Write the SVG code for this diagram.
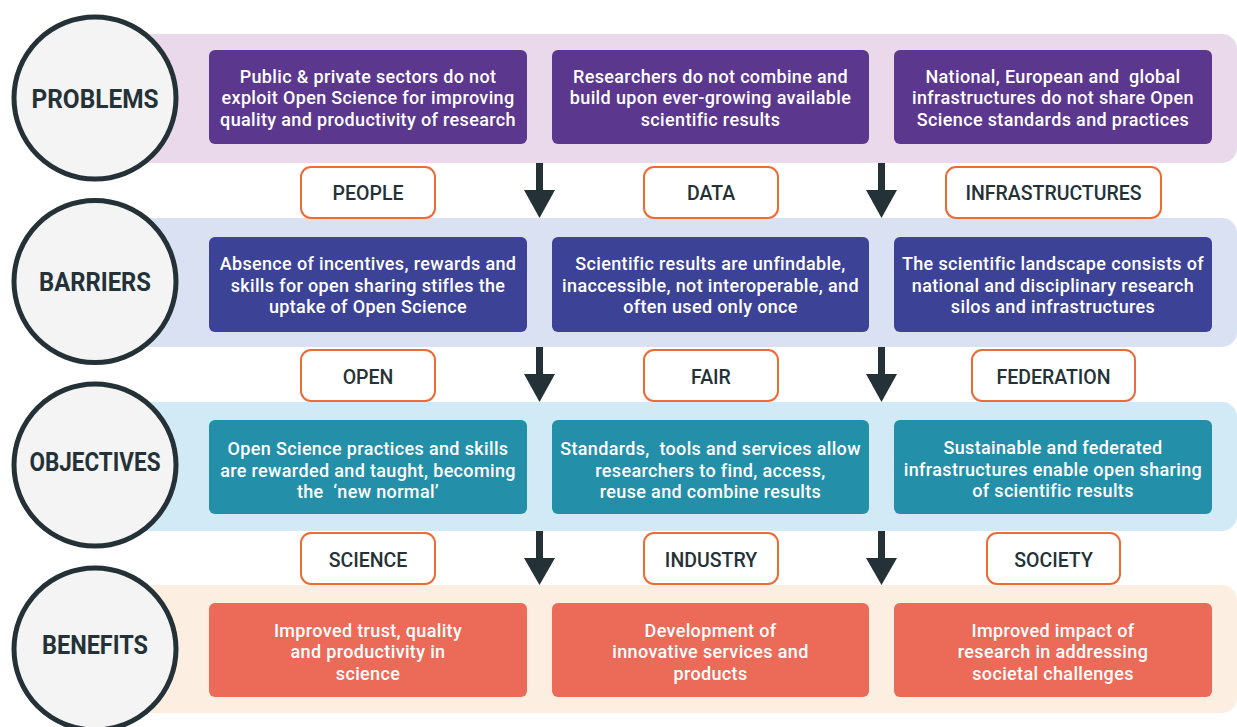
<svg xmlns="http://www.w3.org/2000/svg" width="1237" height="727" viewBox="0 0 1237 727">
  <defs>
    <style>
      .band { stroke: none; }
      .circ { fill: #f4f4f4; stroke: #243238; stroke-width: 5; }
      .clabel { font-family: Roboto, "Liberation Sans", sans-serif; font-weight: 700; font-size: 25.5px; fill: #243238; text-anchor: middle; }
      .box { stroke: none; }
      .btext { font-family: Roboto, "Liberation Sans", sans-serif; font-weight: 500; font-size: 18px; letter-spacing: 0.35px; fill: #ffffff; text-anchor: middle; }
      .lbox { fill: #ffffff; stroke: #ef6b34; stroke-width: 2; }
      .ltext { font-family: Roboto, "Liberation Sans", sans-serif; font-weight: 500; font-size: 19.5px; fill: #243238; text-anchor: middle; }
      .shaft { stroke: #243238; stroke-width: 7; fill: none; }
      .head { fill: #243238; stroke: none; }
    </style>
  </defs>
  <rect width="1237" height="727" fill="#ffffff"/>

  <!-- Bands -->
  <g id="bands">
    <rect class="band" x="95" y="34" width="1142" height="129" rx="15" fill="#e9d9eb"/>
    <rect class="band" x="95" y="218" width="1142" height="129" rx="15" fill="#d9e1f3"/>
    <rect class="band" x="95" y="402" width="1142" height="129" rx="15" fill="#d2e9f6"/>
    <rect class="band" x="95" y="585" width="1142" height="128" rx="15" fill="#fdeee2"/>
  </g>

  <!-- Row headers -->
  <g id="problems">
    <circle class="circ" cx="95" cy="98" r="81"/>
    <text class="clabel" x="95" y="108" textLength="127" lengthAdjust="spacingAndGlyphs">PROBLEMS</text>
  </g>
  <g id="barriers">
    <circle class="circ" cx="95" cy="281.5" r="81"/>
    <text class="clabel" x="95" y="291" textLength="112" lengthAdjust="spacingAndGlyphs">BARRIERS</text>
  </g>
  <g id="objectives">
    <circle class="circ" cx="95" cy="465" r="81"/>
    <text class="clabel" x="95" y="471" textLength="131" lengthAdjust="spacingAndGlyphs">OBJECTIVES</text>
  </g>
  <g id="benefits">
    <circle class="circ" cx="95" cy="649" r="81"/>
    <text class="clabel" x="95" y="654" textLength="106" lengthAdjust="spacingAndGlyphs">BENEFITS</text>
  </g>

  <!-- Problems row -->
  <g id="problem-1">
    <rect class="box" x="209" y="50" width="318" height="94" rx="6" fill="#5b378d"/>
    <text class="btext" x="368" y="82.5">Public &amp; private sectors do not</text>
    <text class="btext" x="368" y="104">exploit Open Science for improving</text>
    <text class="btext" x="368" y="125.5">quality and productivity of research</text>
  </g>
  <g id="problem-2">
    <rect class="box" x="552" y="50" width="317" height="94" rx="6" fill="#5b378d"/>
    <text class="btext" x="710.5" y="82.5">Researchers do not combine and</text>
    <text class="btext" x="710.5" y="104">build upon ever-growing available</text>
    <text class="btext" x="710.5" y="125.5">scientific results</text>
  </g>
  <g id="problem-3">
    <rect class="box" x="894" y="50" width="318" height="94" rx="6" fill="#5b378d"/>
    <text class="btext" x="1053" y="82.5" xml:space="preserve">National, European and  global</text>
    <text class="btext" x="1053" y="104">infrastructures do not share Open</text>
    <text class="btext" x="1053" y="125.5">Science standards and practices</text>
  </g>

  <!-- Barriers row -->
  <g id="barrier-1">
    <rect class="box" x="209" y="237" width="318" height="95" rx="6" fill="#3c4396"/>
    <text class="btext" x="368" y="270">Absence of incentives, rewards and</text>
    <text class="btext" x="368" y="291.5">skills for open sharing stifles the</text>
    <text class="btext" x="368" y="313">uptake of Open Science</text>
  </g>
  <g id="barrier-2">
    <rect class="box" x="552" y="237" width="317" height="95" rx="6" fill="#3c4396"/>
    <text class="btext" x="710.5" y="270">Scientific results are unfindable,</text>
    <text class="btext" x="710.5" y="291.5">inaccessible, not interoperable, and</text>
    <text class="btext" x="710.5" y="313">often used only once</text>
  </g>
  <g id="barrier-3">
    <rect class="box" x="894" y="237" width="318" height="95" rx="6" fill="#3c4396"/>
    <text class="btext" x="1053" y="270">The scientific landscape consists of</text>
    <text class="btext" x="1053" y="291.5">national and disciplinary research</text>
    <text class="btext" x="1053" y="313">silos and infrastructures</text>
  </g>

  <!-- Objectives row -->
  <g id="objective-1">
    <rect class="box" x="209" y="420" width="318" height="94" rx="6" fill="#248fa9"/>
    <text class="btext" x="368" y="455">Open Science practices and skills</text>
    <text class="btext" x="368" y="476.5">are rewarded and taught, becoming</text>
    <text class="btext" x="368" y="498" xml:space="preserve">the  ‘new normal’</text>
  </g>
  <g id="objective-2">
    <rect class="box" x="552" y="420" width="317" height="94" rx="6" fill="#248fa9"/>
    <text class="btext" x="710.5" y="455" xml:space="preserve">Standards,  tools and services allow</text>
    <text class="btext" x="710.5" y="476.5">researchers to find, access,</text>
    <text class="btext" x="710.5" y="498">reuse and combine results</text>
  </g>
  <g id="objective-3">
    <rect class="box" x="894" y="420" width="318" height="94" rx="6" fill="#248fa9"/>
    <text class="btext" x="1053" y="454">Sustainable and federated</text>
    <text class="btext" x="1053" y="475.5">infrastructures enable open sharing</text>
    <text class="btext" x="1053" y="497">of scientific results</text>
  </g>

  <!-- Benefits row -->
  <g id="benefit-1">
    <rect class="box" x="209" y="603" width="318" height="94" rx="6" fill="#ec6a58"/>
    <text class="btext" x="368" y="636.5">Improved trust, quality</text>
    <text class="btext" x="368" y="658">and productivity in</text>
    <text class="btext" x="368" y="679.5">science</text>
  </g>
  <g id="benefit-2">
    <rect class="box" x="552" y="603" width="317" height="94" rx="6" fill="#ec6a58"/>
    <text class="btext" x="710.5" y="636.5">Development of</text>
    <text class="btext" x="710.5" y="658">innovative services and</text>
    <text class="btext" x="710.5" y="679.5">products</text>
  </g>
  <g id="benefit-3">
    <rect class="box" x="894" y="603" width="318" height="94" rx="6" fill="#ec6a58"/>
    <text class="btext" x="1053" y="636.5">Improved impact of</text>
    <text class="btext" x="1053" y="658">research in addressing</text>
    <text class="btext" x="1053" y="679.5">societal challenges</text>
  </g>

  <!-- Category labels -->
  <g id="label-people">
    <rect class="lbox" x="301" y="167" width="134" height="51" rx="10"/>
    <text class="ltext" x="368" y="199.5">PEOPLE</text>
  </g>
  <g id="label-data">
    <rect class="lbox" x="644" y="167" width="134" height="51" rx="10"/>
    <text class="ltext" x="711" y="199.5">DATA</text>
  </g>
  <g id="label-infrastructures">
    <rect class="lbox" x="946" y="167" width="215" height="51" rx="10"/>
    <text class="ltext" x="1053.5" y="199.5">INFRASTRUCTURES</text>
  </g>
  <g id="label-open">
    <rect class="lbox" x="301" y="350" width="134" height="51" rx="10"/>
    <text class="ltext" x="368" y="383.5">OPEN</text>
  </g>
  <g id="label-fair">
    <rect class="lbox" x="644" y="350" width="134" height="51" rx="10"/>
    <text class="ltext" x="711" y="383.5">FAIR</text>
  </g>
  <g id="label-federation">
    <rect class="lbox" x="972" y="350" width="163" height="51" rx="10"/>
    <text class="ltext" x="1053.5" y="383.5">FEDERATION</text>
  </g>
  <g id="label-science">
    <rect class="lbox" x="301" y="533" width="134" height="51" rx="10"/>
    <text class="ltext" x="368" y="566.5">SCIENCE</text>
  </g>
  <g id="label-industry">
    <rect class="lbox" x="644" y="533" width="134" height="51" rx="10"/>
    <text class="ltext" x="711" y="566.5">INDUSTRY</text>
  </g>
  <g id="label-society">
    <rect class="lbox" x="987" y="533" width="133" height="51" rx="10"/>
    <text class="ltext" x="1053.5" y="566.5">SOCIETY</text>
  </g>

  <!-- Connectors -->
  <g id="connectors">
    <line class="shaft" x1="539.5" y1="163" x2="539.5" y2="191"/>
    <polygon class="head" points="524,190 555,190 539.5,218"/>
    <line class="shaft" x1="881.5" y1="163" x2="881.5" y2="191"/>
    <polygon class="head" points="866,190 897,190 881.5,218"/>

    <line class="shaft" x1="539.5" y1="347" x2="539.5" y2="375"/>
    <polygon class="head" points="524,374 555,374 539.5,402"/>
    <line class="shaft" x1="881.5" y1="347" x2="881.5" y2="375"/>
    <polygon class="head" points="866,374 897,374 881.5,402"/>

    <line class="shaft" x1="539.5" y1="531" x2="539.5" y2="559"/>
    <polygon class="head" points="524,558 555,558 539.5,585"/>
    <line class="shaft" x1="881.5" y1="531" x2="881.5" y2="559"/>
    <polygon class="head" points="866,558 897,558 881.5,585"/>
  </g>
</svg>
